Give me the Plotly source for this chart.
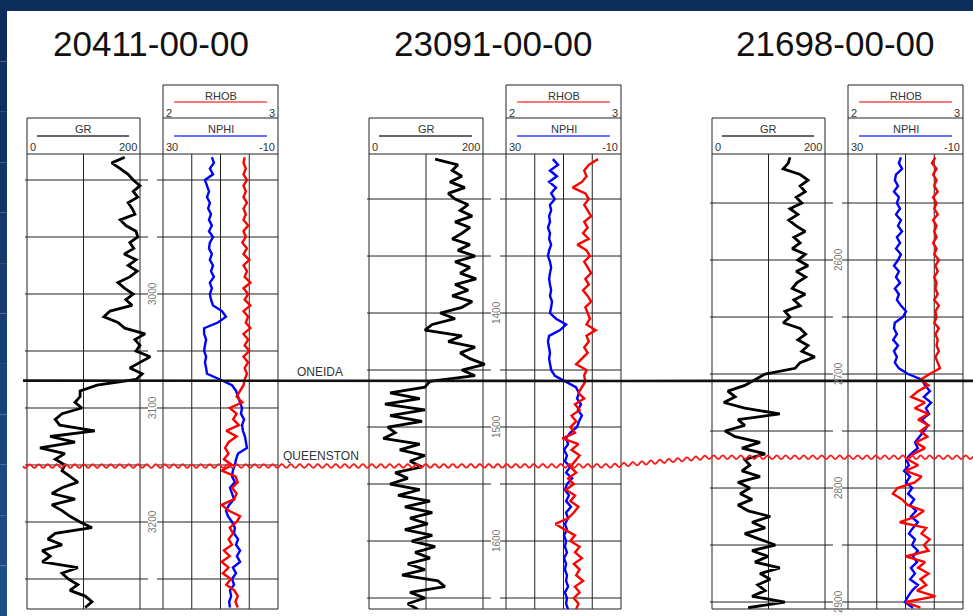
import numpy as np
import plotly.graph_objects as go

W, H = 973, 616

# ---------------- data ----------------
WELL_NAMES = ["20411-00-00", "23091-00-00", "21698-00-00"]
DEPTH_START = [2880, 1265, 2510]
DEPTH_STEP = 5
DEPTH_LABELS = [[3000, 3100, 3200], [1400, 1500, 1600], [2600, 2700, 2800, 2900]]
ONEIDA_TOPS = [3076, 1459.6, 2706]
QUEENSTON_TOPS = [3151, 1534, 2773]

GR_SCALE = (0, 200)
NPHI_SCALE = (30, -10)
RHOB_SCALE = (2, 3)
GR_GRID = [0, 100, 200]
NPHI_GRID = [30, 20, 10, 0, -10]
SCALE_LABELS_GR = ["0", "200"]
SCALE_LABELS_NPHI = ["30", "-10"]
SCALE_LABELS_RHOB = ["2", "3"]

GR_W1 = [173, 150, 165, 179, 188, 200, 188, 196, 179, 186, 191, 165, 175, 193, 196, 182, 189, 172, 193, 179,
         195, 182, 161, 173, 188, 175, 186, 147, 136, 161, 173, 209, 191, 200, 193, 218, 200, 182, 204, 193,
         124, 94, 94, 85, 97, 62, 50, 58, 120, 41, 85, 23, 67, 50, 67, 62, 76, 90, 62, 44,
         85, 44, 62, 76, 94, 115, 50, 37, 62, 27, 41, 27, 90, 62, 73, 90, 76, 103, 115, 103]
NPHI_W1 = [13.0, 12.3, 13.7, 12.6, 15.4, 14.7, 14.0, 14.7, 13.7, 14.3, 13.3, 14.0, 13.0, 14.0, 12.6, 13.7, 14.0, 13.0, 13.7, 12.6,
           13.3, 12.3, 13.7, 13.0, 13.7, 13.3, 12.6, 9.5, 8.1, 10.9, 15.7, 15.7, 15.0, 15.4, 15.7, 15.0, 15.4, 15.0, 14.7, 10.2,
           6.0, 4.6, 3.9, 3.2, 2.5, 2.9, 1.8, 2.5, 2.2, 1.5, 1.1, 0.8, 3.9, 4.6, 5.0, 5.7, 6.0, 5.0, 6.7, 6.0,
           5.3, 7.0, 8.1, 7.4, 6.0, 5.0, 5.3, 3.9, 4.6, 3.2, 4.3, 3.2, 5.7, 4.6, 6.0, 5.3, 6.7, 6.3, 7.0, 6.7]
RHOB_W1 = [2.71, 2.70, 2.72, 2.70, 2.73, 2.70, 2.72, 2.70, 2.73, 2.70, 2.72, 2.70, 2.74, 2.70, 2.72, 2.69, 2.73, 2.70, 2.75, 2.70,
           2.73, 2.71, 2.76, 2.70, 2.74, 2.71, 2.76, 2.70, 2.74, 2.72, 2.76, 2.70, 2.74, 2.71, 2.75, 2.70, 2.74, 2.71, 2.73, 2.71,
           2.70, 2.67, 2.64, 2.69, 2.58, 2.64, 2.61, 2.66, 2.55, 2.64, 2.57, 2.54, 2.57, 2.53, 2.60, 2.51, 2.63, 2.65, 2.60, 2.64,
           2.62, 2.51, 2.57, 2.67, 2.64, 2.58, 2.61, 2.57, 2.60, 2.53, 2.58, 2.51, 2.57, 2.52, 2.59, 2.55, 2.62, 2.65, 2.63, 2.65]

GR_W2 = [116, 156, 146, 163, 142, 168, 139, 151, 174, 160, 181, 151, 177, 163, 146, 177, 156, 186, 151, 177,
         160, 188, 151, 174, 146, 181, 163, 125, 151, 111, 98, 163, 139, 186, 160, 177, 203, 163, 186, 107,
         98, 37, 89, 28, 98, 37, 93, 33, 46, 25, 89, 54, 98, 72, 93, 46, 68, 37, 89, 51,
         107, 63, 111, 72, 103, 63, 111, 75, 116, 81, 107, 68, 98, 58, 121, 133, 72, 98, 68, 86]
NPHI_W2 = [13.7, 11.9, 14.7, 12.3, 15.0, 12.6, 14.3, 13.0, 14.7, 14.3, 15.0, 14.7, 15.4, 14.7, 15.0, 14.3, 15.0, 15.4, 14.7, 14.3,
           14.7, 15.0, 14.7, 14.3, 14.7, 14.0, 14.3, 14.7, 12.6, 9.1, 11.2, 15.0, 15.4, 15.0, 14.7, 15.0, 14.7, 14.3, 13.0, 9.5,
           5.7, 4.6, 5.3, 3.9, 5.0, 3.6, 4.6, 5.3, 7.7, 9.1, 8.4, 9.8, 8.8, 9.5, 7.7, 9.1, 7.0, 8.8, 9.5, 8.1,
           9.1, 7.4, 9.1, 8.4, 9.5, 8.8, 9.8, 9.1, 9.5, 8.8, 9.8, 9.1, 9.5, 8.8, 9.1, 8.4, 9.5, 8.8, 9.1, 8.4]
RHOB_W2 = [2.80, 2.72, 2.68, 2.70, 2.66, 2.58, 2.69, 2.72, 2.68, 2.71, 2.74, 2.68, 2.71, 2.67, 2.72, 2.62, 2.70, 2.73, 2.68, 2.71,
           2.74, 2.69, 2.72, 2.67, 2.71, 2.74, 2.69, 2.71, 2.73, 2.70, 2.78, 2.70, 2.72, 2.68, 2.71, 2.66, 2.61, 2.70, 2.68, 2.69,
           2.66, 2.63, 2.68, 2.60, 2.64, 2.57, 2.61, 2.56, 2.60, 2.49, 2.63, 2.57, 2.64, 2.60, 2.56, 2.61, 2.54, 2.59, 2.52, 2.60,
           2.56, 2.63, 2.59, 2.54, 2.43, 2.51, 2.60, 2.56, 2.64, 2.60, 2.66, 2.59, 2.64, 2.61, 2.67, 2.60, 2.64, 2.59, 2.63, 2.61]

GR_W3 = [138, 135, 126, 156, 170, 156, 165, 149, 159, 138, 152, 136, 149, 165, 145, 156, 142, 165, 152, 170,
         149, 166, 150, 142, 165, 145, 156, 129, 138, 126, 156, 166, 152, 170, 159, 182, 156, 147, 94, 76,
         58, 28, 41, 21, 58, 120, 46, 58, 23, 41, 85, 53, 94, 58, 67, 53, 85, 46, 67, 50,
         71, 46, 64, 103, 71, 94, 58, 85, 112, 71, 99, 76, 120, 85, 103, 81, 94, 71, 129, 64]
NPHI_W3 = [11.6, 12.3, 11.2, 13.3, 13.7, 12.6, 14.0, 12.3, 13.0, 11.9, 13.3, 11.6, 12.6, 11.2, 13.0, 11.9, 13.3, 11.6, 12.6, 14.0,
           12.3, 13.3, 11.9, 13.7, 12.3, 13.0, 11.6, 9.8, 10.9, 13.7, 14.0, 13.0, 14.3, 12.6, 14.0, 13.0, 13.7, 12.3, 9.1, 4.3,
           3.2, 1.5, 3.6, 1.1, 2.9, 1.8, 4.3, 2.2, 3.6, 5.0, 6.7, 5.7, 8.1, 9.8, 8.8, 10.5, 8.4, 9.8, 7.7, 9.1,
           7.0, 8.4, 6.3, 8.1, 5.7, 7.4, 8.8, 6.7, 7.7, 5.7, 7.4, 6.0, 8.1, 6.7, 8.4, 5.7, 7.7, 9.1, 10.2, 7.4]
RHOB_W3 = [2.76, 2.73, 2.77, 2.74, 2.77, 2.75, 2.78, 2.74, 2.77, 2.75, 2.78, 2.74, 2.77, 2.75, 2.77, 2.74, 2.77, 2.75, 2.79, 2.76,
           2.78, 2.75, 2.77, 2.76, 2.78, 2.75, 2.79, 2.76, 2.77, 2.75, 2.79, 2.76, 2.78, 2.77, 2.79, 2.76, 2.78, 2.80, 2.71, 2.63,
           2.70, 2.61, 2.55, 2.67, 2.58, 2.70, 2.61, 2.70, 2.63, 2.69, 2.59, 2.67, 2.57, 2.52, 2.61, 2.50, 2.64, 2.58, 2.43, 2.39,
           2.47, 2.52, 2.66, 2.59, 2.45, 2.68, 2.64, 2.71, 2.66, 2.70, 2.50, 2.67, 2.61, 2.70, 2.63, 2.68, 2.60, 2.76, 2.50, 2.63]

GR = [GR_W1, GR_W2, GR_W3]
NPHI = [NPHI_W1, NPHI_W2, NPHI_W3]
RHOB = [RHOB_W1, RHOB_W2, RHOB_W3]

# ---------------- layout (pixels) ----------------
GR_X = [(27, 140), (369, 483), (712, 825)]
T2_X = [(163, 278), (506, 621), (848, 963)]
TOP_PX, BOT_PX = 154, 609
GR_HDR_TOP, T2_HDR_TOP, T2_HDR_DIV = 118, 85, 118
PX_PER_DEPTH = 1.14
DEPTH_TOP = [2877.2, 1260.5, 2507.0]

FONT = "Liberation Sans, Arial, sans-serif"
FRAME = "#222222"


def PX(px):
    return px / W


def PY(py):
    return 1 - py / H


def depth_to_px(w, d):
    return TOP_PX + (d - DEPTH_TOP[w]) * PX_PER_DEPTH


def scale_px(v, scale, L, R):
    a, b = scale
    return L + (v - a) / (b - a) * (R - L)


def axis_range(scale, L, R, pad_l, pad_r):
    a, b = scale
    upp = (b - a) / (R - L)
    return [a - pad_l * upp, b + pad_r * upp]


def ax_key(prefix, n):
    return prefix + "axis" + ("" if n == 1 else str(n))


def ax_id(prefix, n):
    return prefix + ("" if n == 1 else str(n))


fig = go.Figure()
layout_axes = {}
shapes = []
annotations = []


def hline(x0, x1, y, width=1.0, color=FRAME, layer="below"):
    shapes.append(dict(type="line", xref="paper", yref="paper", x0=PX(x0), x1=PX(x1),
                       y0=PY(y), y1=PY(y), line=dict(color=color, width=width), layer=layer))


def vline(x, y0, y1, width=1.0, color=FRAME, layer="below"):
    shapes.append(dict(type="line", xref="paper", yref="paper", x0=PX(x), x1=PX(x),
                       y0=PY(y0), y1=PY(y1), line=dict(color=color, width=width), layer=layer))


def text(s, x, y, size=11, color="#333333", xanchor="center", angle=0, yref="paper", ypx=True):
    annotations.append(dict(text=s, x=PX(x), y=PY(y) if ypx else y, xref="paper", yref=yref,
                            showarrow=False, xanchor=xanchor, yanchor="middle", textangle=angle,
                            font=dict(family=FONT, size=size, color=color)))


# background bands
shapes.append(dict(type="rect", xref="paper", yref="paper", x0=0, x1=1, y0=PY(11), y1=1,
                   fillcolor="#0c2d5c", line=dict(width=0), layer="above"))
nb = 12
for k in range(nb):
    t = k / (nb - 1)
    r = int(12 + t * (30 - 12))
    g = int(45 + t * (78 - 45))
    b = int(92 + t * (136 - 92))
    y0 = 11 + (H - 11) * k / nb
    y1 = 11 + (H - 11) * (k + 1) / nb
    shapes.append(dict(type="rect", xref="paper", yref="paper", x0=0, x1=PX(7), y0=PY(y1), y1=PY(y0),
                       fillcolor=f"rgb({r},{g},{b})", line=dict(width=0), layer="above"))

for w in range(3):
    yn = w + 1
    yid = ax_id("y", yn)
    gL, gR = GR_X[w]
    tL, tR = T2_X[w]
    gapc = (gR + tL) / 2
    depth_bottom = DEPTH_TOP[w] + (BOT_PX - TOP_PX) / PX_PER_DEPTH
    nx_gr, nx_nphi, nx_rhob = 3 * w + 1, 3 * w + 2, 3 * w + 3

    layout_axes[ax_key("y", yn)] = dict(domain=[PY(BOT_PX), PY(TOP_PX)],
                                        range=[depth_bottom, DEPTH_TOP[w]],
                                        visible=False, anchor=ax_id("x", nx_gr))
    layout_axes[ax_key("x", nx_gr)] = dict(domain=[PX(gL - 2), PX(gR + 15)],
                                           range=axis_range(GR_SCALE, gL, gR, 2, 15),
                                           visible=False, anchor=yid)
    layout_axes[ax_key("x", nx_nphi)] = dict(domain=[PX(tL - 3), PX(tR + 3)],
                                             range=axis_range(NPHI_SCALE, tL, tR, 3, 3),
                                             visible=False, anchor=yid)
    layout_axes[ax_key("x", nx_rhob)] = dict(domain=[PX(tL - 3), PX(tR + 3)],
                                             range=axis_range(RHOB_SCALE, tL, tR, 3, 3),
                                             visible=False, anchor=yid,
                                             overlaying=ax_id("x", nx_nphi))

    depths = DEPTH_START[w] + DEPTH_STEP * np.arange(len(GR[w]))
    fig.add_trace(go.Scatter(x=GR[w], y=depths, mode="lines", name="GR",
                             line=dict(color="black", width=2.8),
                             xaxis=ax_id("x", nx_gr), yaxis=yid, showlegend=False))
    depths = DEPTH_START[w] + DEPTH_STEP * np.arange(len(NPHI[w]))
    fig.add_trace(go.Scatter(x=NPHI[w], y=depths, mode="lines", name="NPHI",
                             line=dict(color="#0000ff", width=2.4),
                             xaxis=ax_id("x", nx_nphi), yaxis=yid, showlegend=False))
    depths = DEPTH_START[w] + DEPTH_STEP * np.arange(len(RHOB[w]))
    fig.add_trace(go.Scatter(x=RHOB[w], y=depths, mode="lines", name="RHOB",
                             line=dict(color="#ff0000", width=2.4),
                             xaxis=ax_id("x", nx_rhob), yaxis=yid, showlegend=False))

    # track verticals
    for v in GR_GRID:
        vline(scale_px(v, GR_SCALE, gL, gR), TOP_PX, BOT_PX)
    for v in NPHI_GRID:
        vline(scale_px(v, NPHI_SCALE, tL, tR), TOP_PX, BOT_PX)
    # header boxes
    vline(gL, GR_HDR_TOP, TOP_PX)
    vline(gR, GR_HDR_TOP, TOP_PX)
    hline(gL, gR, GR_HDR_TOP)
    vline(tL, T2_HDR_TOP, TOP_PX)
    vline(tR, T2_HDR_TOP, TOP_PX)
    hline(tL, tR, T2_HDR_TOP)
    hline(tL, tR, T2_HDR_DIV)
    hline(gL, tR, TOP_PX, width=1.2)
    hline(gL, tR, BOT_PX, width=1.2)

    # depth grid lines
    d = np.ceil(DEPTH_TOP[w] / 50) * 50
    while d < depth_bottom - 0.5:
        for xa, xb in ((gL - 2, gapc - 3.5), (gapc + 5.5, tR)):
            shapes.append(dict(type="line", xref="paper", yref=yid, x0=PX(xa), x1=PX(xb),
                               y0=d, y1=d, line=dict(color=FRAME, width=1), layer="below"))
        d += 50
    for d in DEPTH_LABELS[w]:
        text(str(d), gapc + 1.5, d, size=10, color="#777777", angle=-90, yref=yid, ypx=False)

    # header text
    text(WELL_NAMES[w], gapc - 1, 44, size=35, color="#111111")
    text("GR", (gL + gR) / 2, 129)
    hline(gL + 10, gR - 11, 136, width=1.3, color="#333333", layer="above")
    text(SCALE_LABELS_GR[0], gL + 1, 147, xanchor="left")
    text(SCALE_LABELS_GR[1], gR - 1, 147, xanchor="right")
    text("RHOB", (tL + tR) / 2, 96)
    hline(tL + 11, tR - 11, 102, width=1.3, color="#ff4a4a", layer="above")
    text(SCALE_LABELS_RHOB[0], tL + 1, 113, xanchor="left")
    text(SCALE_LABELS_RHOB[1], tR - 1, 113, xanchor="right")
    text("NPHI", (tL + tR) / 2, 129)
    hline(tL + 11, tR - 11, 136, width=1.3, color="#3344ff", layer="above")
    text(SCALE_LABELS_NPHI[0], tL + 1, 147, xanchor="left")
    text(SCALE_LABELS_NPHI[1], tR - 1, 147, xanchor="right")

# formation tops
oy = [depth_to_px(w, ONEIDA_TOPS[w]) for w in range(3)]
qy = [depth_to_px(w, QUEENSTON_TOPS[w]) for w in range(3)]

o_path = "M {:.5f},{:.5f} L {:.5f},{:.5f} L {:.5f},{:.5f} L {:.5f},{:.5f}".format(
    PX(23), PY(oy[0]), PX(T2_X[1][1]), PY(oy[1]), PX(GR_X[2][0]), PY(oy[2]), PX(W), PY(oy[2]))
shapes.append(dict(type="path", xref="paper", yref="paper", path=o_path,
                   line=dict(color="#111111", width=2.6), layer="above"))

xs = np.arange(23, W + 1, 0.75)
base = np.interp(xs, [23, 612, 708, W], [qy[0], qy[1], qy[2], qy[2]])
wave = base + 1.8 * np.sin(2 * np.pi * (xs - 23) / 9.0)
q_path = "M " + " L ".join("{:.5f},{:.5f}".format(PX(x), PY(y)) for x, y in zip(xs, wave))
shapes.append(dict(type="path", xref="paper", yref="paper", path=q_path,
                   line=dict(color="#ff1a1a", width=1.8), layer="above"))

text("ONEIDA", 320, 372, size=12, color="#333333")
text("QUEENSTON", 321, 456, size=12, color="#333333")

fig.update_layout(width=W, height=H, margin=dict(l=0, r=0, t=0, b=0),
                  paper_bgcolor="white", plot_bgcolor="rgba(0,0,0,0)",
                  showlegend=False, shapes=shapes, annotations=annotations,
                  **layout_axes)

fig.write_html("out.html", config={"displayModeBar": False},
               post_script="document.body.style.margin='0';document.body.style.padding='0';"
                           "document.body.style.overflow='hidden';")
